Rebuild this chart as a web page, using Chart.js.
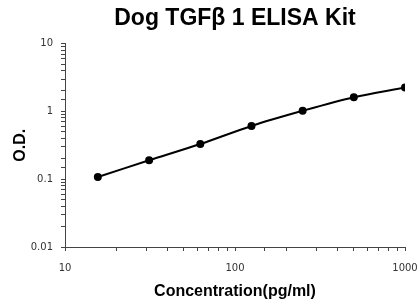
<!DOCTYPE html>
<html>
<head>
<meta charset="utf-8">
<script src="https://cdn.jsdelivr.net/npm/chart.js@4"></script>
<style>
  html, body { margin: 0; padding: 0; background: #fff; }
  #wrap { width: 420px; height: 305px; }
</style>
</head>
<body>
<div id="wrap"><canvas id="elisa" width="420" height="305"></canvas></div>
<script>
// concentraciones estandar (pg/ml) y O.D.
const concentracion = [15.6, 31.25, 62.5, 125, 250, 500, 1000];
const densidad = [0.108, 0.19, 0.33, 0.61, 1.02, 1.62, 2.25];
const ticksX = [10, 100, 1000];
const ticksY = [0.01, 0.1, 1, 10];

var puntos = [];
for (let i = 0; i < concentracion.length; i++) {
  puntos.push({ x: concentracion[i], y: densidad[i] });
}

// solo se muestran las potencias de 10
function etiqueta(lista) {
  return function (value) {
    for (let v of lista) {
      if (Math.abs(value - v) / v < 1e-6) return String(v);
    }
    return "";
  };
}

new Chart(document.getElementById("elisa").getContext("2d"), {
  type: "scatter",
  data: {
    datasets: [
      {
        label: "Dog TGFβ 1",
        data: puntos,
        showLine: true,
        borderColor: "#000",
        backgroundColor: "#000",
        borderWidth: 2,
        pointRadius: 3,
        tension: 0.3,
      },
    ],
  },
  options: {
    responsive: false,
    animation: false,
    layout: { padding: { right: 15, top: 0, bottom: 0, left: 0 } },
    plugins: {
      legend: { display: false },
      tooltip: { enabled: false },
      title: {
        display: true,
        text: "Dog TGFβ 1 ELISA Kit",
        fullSize: false,
        color: "#000",
        font: { family: "Liberation Sans, Arial", size: 23, weight: "bold" },
        padding: { top: 5, bottom: 11 },
      },
    },
    scales: {
      x: {
        type: "logarithmic",
        min: 10,
        max: 1000,
        afterFit: (s) => {
          s.height = 58;
          s.paddingLeft = 0;
          s.paddingRight = 0;
        },
        grid: { drawOnChartArea: false, color: "#444", tickLength: 4 },
        border: { color: "#444" },
        ticks: {
          autoSkip: false,
          maxRotation: 0,
          padding: 11,
          color: "#333",
          font: { family: "DejaVu Sans", size: 10 },
          callback: etiqueta(ticksX),
        },
        title: {
          display: true,
          text: "Concentration(pg/ml)",
          color: "#000",
          font: { family: "Liberation Sans, Arial", size: 16, weight: "bold" },
          padding: { top: 0, bottom: 4 },
        },
      },
      y: {
        type: "logarithmic",
        min: 0.01,
        max: 10,
        afterFit: (s) => { s.width = 65; },
        grid: { drawOnChartArea: false, color: "#444", tickLength: 4 },
        border: { color: "#444" },
        ticks: {
          autoSkip: false,
          padding: 8,
          color: "#333",
          font: { family: "DejaVu Sans", size: 10 },
          callback: etiqueta(ticksY),
        },
        title: {
          display: true,
          text: "O.D.",
          color: "#000",
          font: { family: "Liberation Sans, Arial", size: 16, weight: "bold" },
          padding: { top: 11, bottom: 0 },
        },
      },
    },
  },
});
</script>
</body>
</html>
